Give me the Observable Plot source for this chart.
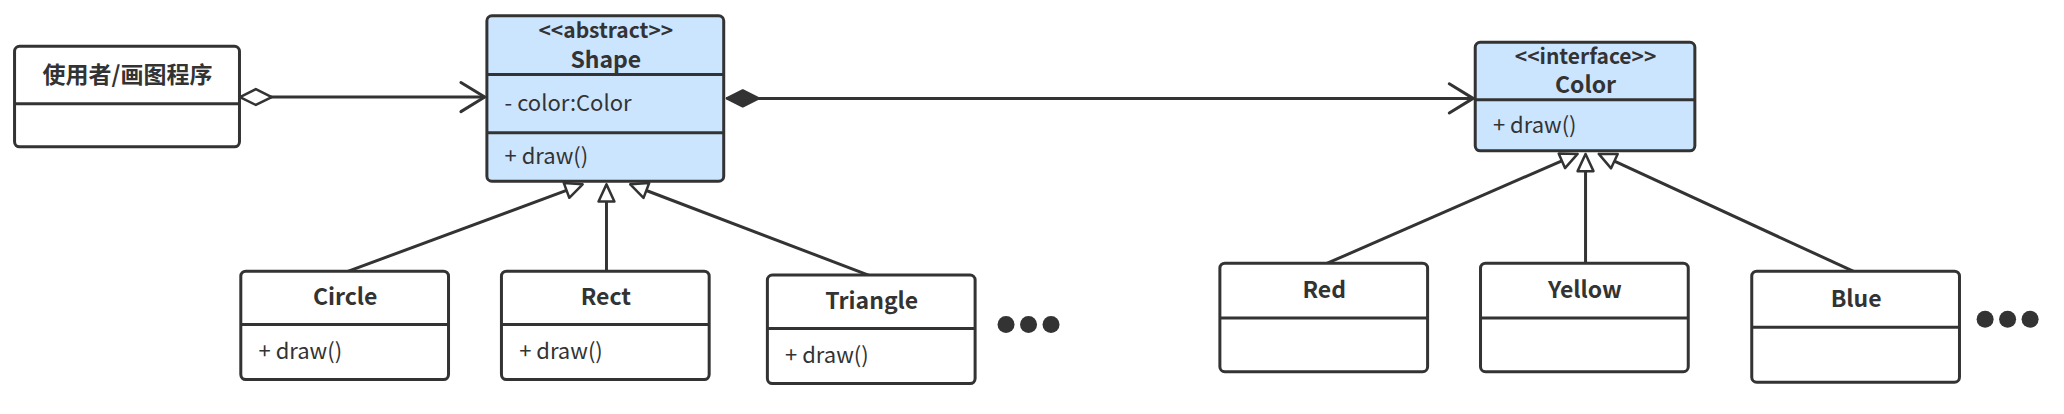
<!DOCTYPE html>
<html><head><meta charset="utf-8">
<script src="https://cdn.jsdelivr.net/npm/d3@7"></script>
<script src="https://cdn.jsdelivr.net/npm/@observablehq/plot@0.6"></script>
<style>body{margin:0;background:#fff}</style>
</head><body><div id="chart"></div>
<script>
// boxes: name, stereotype, members, x1,x2,y1,dividers...,y2, fill
const classNames = ["使用者/画图程序", "Shape", "Color", "Circle", "Rect", "Triangle", "Red", "Yellow", "Blue"];
const stereotypes = ["", "<<abstract>>", "<<interface>>", "", "", "", "", "", ""];
const attrs = [[], ["- color:Color"], [], [], [], [], [], [], []];
const methods = [[], ["+ draw()"], ["+ draw()"], ["+ draw()"], ["+ draw()"], ["+ draw()"], [], [], []];
const boxX1 = [11, 368, 1115, 182, 379, 580, 922, 1119, 1324];
const boxX2 = [181, 547, 1281, 339, 536, 737, 1079, 1276, 1481];
const boxY1 = [35, 12, 32, 205, 205, 208, 199, 199, 205];
const boxY2 = [111, 137, 114, 287, 287, 290, 281, 281, 289];
const dividers = [[78], [56, 100], [75], [245], [245], [248], [240], [240], [247]];
const highlighted = [false, true, true, false, false, false, false, false, false];

// relations: from class -> to class, endpoints
const genFrom = [3, 4, 5, 6, 7, 8];
const genTo = [1, 1, 1, 2, 2, 2];
const genStart = [[262, 205], [458, 205], [657, 208], [1002, 199], [1198, 199], [1401, 205]];
const genEnd = [[440, 139], [458, 139], [476, 139], [1192, 116], [1198, 116], [1208, 116]];
const assoc = [{x1: 181, y1: 73, x2: 366, y2: 73, kind: "aggregation"},
               {x1: 549, y1: 74, x2: 1113, y2: 74, kind: "composition"}];
const ellipsisX = [[760, 777, 794], [1500, 1517, 1534]];
const ellipsisY = [245, 241];

const ink = "#333";
const boxes = classNames.map((n, i) => ({n, i, x1: boxX1[i], x2: boxX2[i], y1: boxY1[i], y2: boxY2[i],
  fill: highlighted[i] ? "#cce5ff" : "#fff"}));
const divs = boxes.flatMap(b => dividers[b.i].map(y => ({x1: b.x1, x2: b.x2, y})));
const titles = [], stereoTexts = [];
boxes.forEach(b => {
  const top = b.y1, bot = dividers[b.i][0], cx = (b.x1 + b.x2) / 2;
  if (stereotypes[b.i]) {
    stereoTexts.push({x: cx, y: top + (bot - top) * 0.26, t: stereotypes[b.i]});
    titles.push({x: cx, y: top + (bot - top) * 0.76, t: b.n});
  } else titles.push({x: cx, y: (top + bot) / 2, t: b.n});
});
const members = boxes.flatMap(b => {
  const ys = [...dividers[b.i], b.y2];
  const out = [];
  attrs[b.i].forEach(t => out.push({x: b.x1 + 13, y: (ys[0] + ys[1]) / 2, t}));
  const mi = attrs[b.i].length ? 1 : 0;
  methods[b.i].forEach(t => out.push({x: b.x1 + 13, y: (ys[mi] + ys[mi + 1]) / 2, t}));
  return out;
});

function head(sx, sy, ex, ey, len, half) {
  const dx = ex - sx, dy = ey - sy, L = Math.hypot(dx, dy), ux = dx / L, uy = dy / L;
  const bx = ex - ux * len, by = ey - uy * len;
  return [[ex, ey], [bx - uy * half, by + ux * half], [bx + uy * half, by - ux * half], [ex, ey]];
}
const tris = genStart.map((s, i) => head(s[0], s[1], genEnd[i][0], genEnd[i][1], 13, 6)
  .map(p => ({x: p[0], y: p[1], id: i})));
const genLines = genStart.map((s, i) => {
  const e = genEnd[i], dx = e[0] - s[0], dy = e[1] - s[1], L = Math.hypot(dx, dy);
  return {x1: s[0], y1: s[1], x2: e[0] - dx / L * 13, y2: e[1] - dy / L * 13};
});
const diamonds = assoc.map((a, i) => {
  const x = a.x1, y = a.y1, w = 24;
  return [[x, y], [x + w / 2, y - 6], [x + w, y], [x + w / 2, y + 6], [x, y]]
    .map(p => ({x: p[0], y: p[1], id: i, fill: a.kind === "composition" ? ink : "#fff"}));
}).flat();
const vHeads = assoc.map(a => [[a.x2 - 18, a.y2 - 11], [a.x2, a.y2], [a.x2 - 18, a.y2 + 11]]
  .map(p => ({x: p[0], y: p[1]})));
const dots = ellipsisX.flatMap((xs, i) => xs.map(x => ({x, y: ellipsisY[i]})));

const font = "'Noto Sans CJK SC', 'Noto Sans', sans-serif";
const plot = Plot.plot({
  width: 2064, height: 414, margin: 0,
  x: {domain: [0, 1560], axis: null},
  y: {domain: [313, 0], axis: null},
  style: {fontFamily: font, background: "#fff"},
  marks: [
    Plot.link(assoc, {x1: "x1", y1: "y1", x2: "x2", y2: "y2", stroke: ink, strokeWidth: 3}),
    Plot.link(genLines, {x1: "x1", y1: "y1", x2: "x2", y2: "y2", stroke: ink, strokeWidth: 3}),
    Plot.rect(boxes, {x1: "x1", x2: "x2", y1: "y1", y2: "y2", fill: "fill", stroke: ink, strokeWidth: 3, rx: 5}),
    Plot.link(divs, {x1: "x1", x2: "x2", y1: "y", y2: "y", stroke: ink, strokeWidth: 3}),
    ...tris.map(t => Plot.line(t, {x: "x", y: "y", fill: "#fff", stroke: ink, strokeWidth: 2.5})),
    ...vHeads.map(v => Plot.line(v, {x: "x", y: "y", stroke: ink, strokeWidth: 3})),
    ...[0, 1].map(i => Plot.line(diamonds.filter(d => d.id === i), {x: "x", y: "y", fill: diamonds.find(d => d.id === i).fill, stroke: ink, strokeWidth: 2.5})),
    Plot.dot(dots, {x: "x", y: "y", r: 8.5, fill: ink}),
    Plot.text(stereoTexts, {x: "x", y: "y", text: "t", fontSize: 21, fontWeight: "bold", fill: ink, letterSpacing: "1.5px"}),
    Plot.text(titles, {x: "x", y: "y", text: "t", fontSize: 23, fontWeight: "bold", fill: ink}),
    Plot.text(members, {x: "x", y: "y", text: "t", fontSize: 22, textAnchor: "start", fill: ink})
  ]
});
document.getElementById("chart").append(plot);
</script></body></html>
